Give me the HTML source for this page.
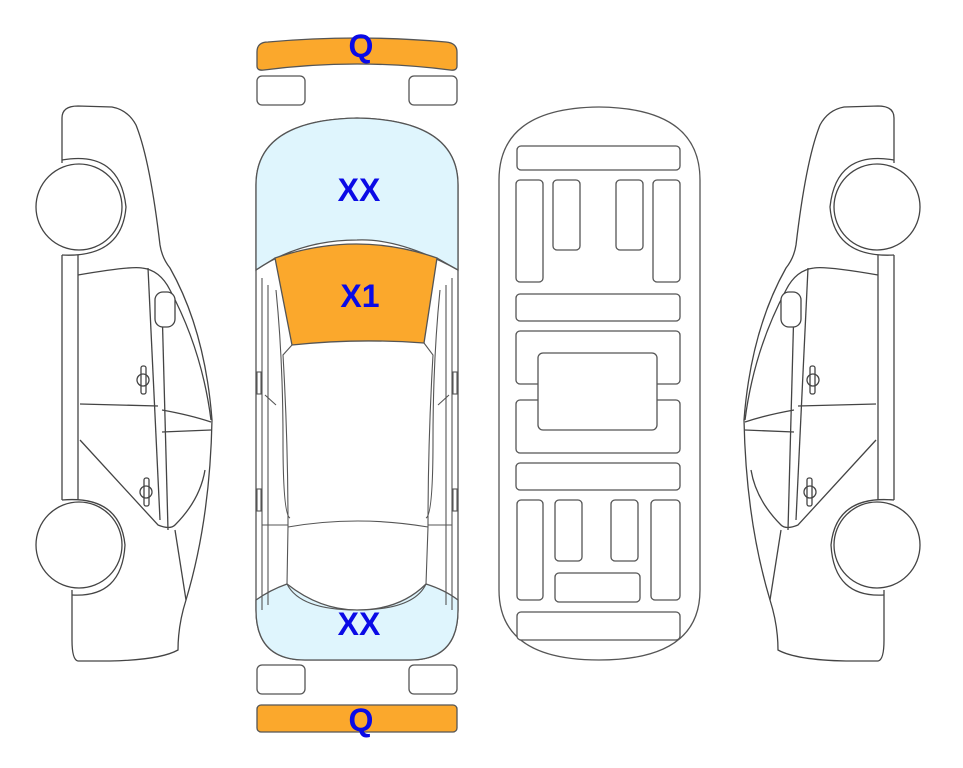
<!DOCTYPE html>
<html><head><meta charset="utf-8"><style>
html,body{margin:0;padding:0;background:#fff;}
svg{display:block}
text{font-family:"Liberation Sans",Arial,sans-serif;font-weight:bold;fill:#0a0ae6;font-size:32px;text-anchor:middle}
</style></head><body>
<svg width="963" height="768" viewBox="0 0 963 768" xmlns="http://www.w3.org/2000/svg">
<defs>
<g id="side" fill="none" stroke="#444" stroke-width="1.3">
  <path d="M62,163 L62,118 Q62,106 78,106 L112,107 Q128,110 136,125 Q150,160 160,245 Q162,258 170,268 Q205,330 212,420 Q210,520 186,600 Q178,625 178,650 Q160,660 110,661 L78,661 Q72,660 72,640 L72,590"/>
  <circle cx="79" cy="207" r="43" fill="#fff"/>
  <path d="M62,160 Q120,150 126,207 Q122,258 62,255"/>
  <circle cx="79" cy="545" r="43" fill="#fff"/>
  <path d="M62,500 Q120,495 125,545 Q122,598 72,595"/>
  <path d="M62,255 L62,500 M78,255 L78,500"/>
  <path d="M78,275 Q130,266 142,268 Q160,270 170,290 Q202,350 211,420"/>
  <path d="M148,268 L160,520"/>
  <path d="M162,305 L168,530"/>
  <path d="M80,404 L158,406 M162,410 Q190,415 211,422 M162,432 L211,430"/>
  <path d="M80,440 L158,525 Q170,530 175,525 Q200,500 205,470"/>
  <path d="M175,530 L186,600"/>
  <rect x="155" y="292" width="20" height="35" rx="8" fill="#fff"/>
  <rect x="141" y="366" width="5" height="28" rx="2"/>
  <circle cx="143" cy="380" r="6"/>
  <rect x="144" y="478" width="5" height="28" rx="2"/>
  <circle cx="146" cy="492" r="6"/>
</g>
</defs>
<use href="#side"/>
<use href="#side" transform="translate(956,0) scale(-1,1)"/>

<g stroke="#555" stroke-width="1.3">
  <path d="M257,52 Q257,42 268,42 Q357,34 446,42 Q457,43 457,52 L457,66 Q457,71 450,70 Q357,58 264,70 Q257,71 257,66 Z" fill="#fba82c"/>
  <rect x="257" y="76" width="48" height="29" rx="5" fill="#fff"/>
  <rect x="409" y="76" width="48" height="29" rx="5" fill="#fff"/>
  <path d="M256,185 Q256,120 357,118 Q458,120 458,185 L458,610 Q458,660 410,660 L305,660 Q256,660 256,610 Z" fill="#fff"/>
  <path d="M256,185 Q256,120 357,118 Q458,120 458,185 L458,270 Q400,238 357,240 Q300,240 256,270 Z" fill="#dff5fd"/>
  <path d="M275,258 Q357,230 437,258 L424,343 Q357,338 292,345 Z" fill="#fba82c"/>
  <path d="M256,610 L256,600 Q270,590 287,584 Q320,610 357,610 Q400,610 426,584 Q445,590 458,600 L458,610 Q458,660 410,660 L305,660 Q256,660 256,610 Z" fill="#dff5fd"/>
  <g fill="none" stroke-width="1.1">
    <path d="M256,270 L275,258 M458,270 L437,258"/>
    <path d="M262,278 L262,610 M268,285 L268,605 M452,278 L452,610 M446,285 L446,605"/>
    <path d="M292,345 L283,355 Q288,440 288,527 L287,584 M424,343 L433,355 Q428,440 428,527 L426,584"/>
    <path d="M276,290 Q283,360 283,440 Q283,515 290,518 M440,290 Q433,360 433,440 Q433,515 426,518"/>
    <path d="M288,527 Q357,515 428,527"/>
    <path d="M287,584 Q300,610 357,610 Q414,610 426,584"/>
    <path d="M262,525 L288,525 M452,525 L428,525 M265,395 L276,405 M449,395 L438,405"/>
    <rect x="257" y="372" width="4" height="22"/>
    <rect x="453" y="372" width="4" height="22"/>
    <rect x="257" y="489" width="4" height="22"/>
    <rect x="453" y="489" width="4" height="22"/>
  </g>
  <rect x="257" y="665" width="48" height="29" rx="5" fill="#fff"/>
  <rect x="409" y="665" width="48" height="29" rx="5" fill="#fff"/>
  <rect x="257" y="705" width="200" height="27" rx="4" fill="#fba82c"/>
</g>
<text x="359" y="201">XX</text>
<text x="360" y="307">X1</text>
<text x="359" y="635">XX</text>
<text x="361" y="57">Q</text>
<text x="361" y="731">Q</text>

<g fill="#fff" stroke="#555" stroke-width="1.3">
  <path d="M499,180 Q499,108 599,107 Q700,108 700,180 L700,590 Q700,660 599,660 Q499,660 499,590 Z"/>
  <rect x="517" y="146" width="163" height="24" rx="4"/>
  <rect x="516" y="180" width="27" height="102" rx="4"/>
  <rect x="553" y="180" width="27" height="70" rx="4"/>
  <rect x="616" y="180" width="27" height="70" rx="4"/>
  <rect x="653" y="180" width="27" height="102" rx="4"/>
  <rect x="516" y="294" width="164" height="27" rx="4"/>
  <rect x="516" y="331" width="164" height="53" rx="4"/>
  <rect x="516" y="400" width="164" height="53" rx="4"/>
  <rect x="538" y="353" width="119" height="77" rx="5"/>
  <rect x="516" y="463" width="164" height="27" rx="4"/>
  <rect x="517" y="500" width="26" height="100" rx="4"/>
  <rect x="555" y="500" width="27" height="61" rx="4"/>
  <rect x="611" y="500" width="27" height="61" rx="4"/>
  <rect x="651" y="500" width="29" height="100" rx="4"/>
  <rect x="555" y="573" width="85" height="29" rx="4"/>
  <rect x="517" y="612" width="163" height="28" rx="4"/>
</g>
</svg>
</body></html>
